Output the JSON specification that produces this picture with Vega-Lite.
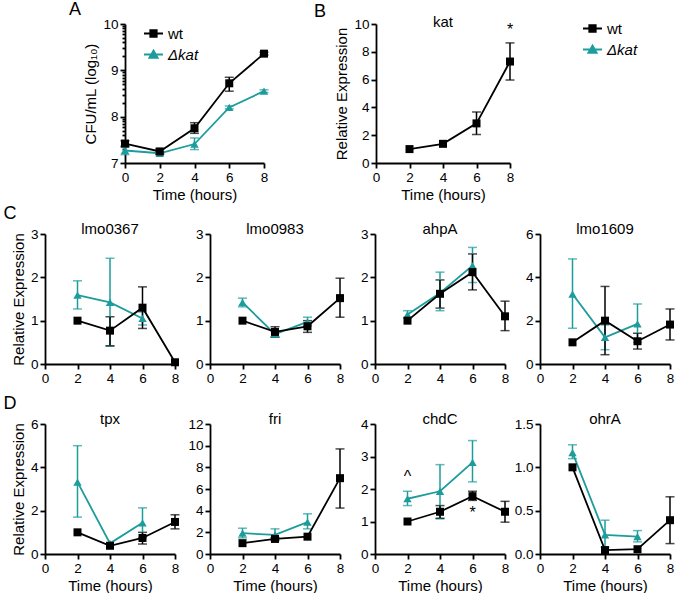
{
  "$schema": "https://vega.github.io/schema/vega-lite/v6.json",
  "background": "white",
  "padding": {"left": 3, "top": 1, "right": 0, "bottom": 0},
  "datasets": {
    "cfu": [
      {"s": "Δkat", "t": 0, "v": 7.27, "lo": 7.18, "hi": 7.34},
      {"s": "Δkat", "t": 2, "v": 7.21, "lo": 7.18, "hi": 7.24},
      {"s": "Δkat", "t": 4, "v": 7.41, "lo": 7.29, "hi": 7.54},
      {"s": "Δkat", "t": 6, "v": 8.2, "lo": 8.17, "hi": 8.23},
      {"s": "Δkat", "t": 8, "v": 8.55, "lo": 8.52, "hi": 8.58},
      {"s": "wt", "t": 0, "v": 7.42, "lo": 7.36, "hi": 7.48},
      {"s": "wt", "t": 2, "v": 7.25, "lo": 7.2, "hi": 7.3},
      {"s": "wt", "t": 4, "v": 7.75, "lo": 7.64, "hi": 7.87},
      {"s": "wt", "t": 6, "v": 8.72, "lo": 8.55, "hi": 8.85},
      {"s": "wt", "t": 8, "v": 9.36, "lo": 9.33, "hi": 9.39}
    ],
    "expr": [
      {"g": "kat", "s": "wt", "t": 2, "v": 1.0, "lo": null, "hi": null},
      {"g": "kat", "s": "wt", "t": 4, "v": 1.38, "lo": null, "hi": null},
      {"g": "kat", "s": "wt", "t": 6, "v": 2.85, "lo": 2.05, "hi": 3.67},
      {"g": "kat", "s": "wt", "t": 8, "v": 7.3, "lo": 5.97, "hi": 8.64},
      {"g": "lmo0367", "s": "Δkat", "t": 2, "v": 1.59, "lo": 1.27, "hi": 1.92},
      {"g": "lmo0367", "s": "Δkat", "t": 4, "v": 1.42, "lo": 0.41, "hi": 2.44},
      {"g": "lmo0367", "s": "Δkat", "t": 6, "v": 1.05, "lo": 0.9, "hi": 1.2},
      {"g": "lmo0367", "s": "wt", "t": 2, "v": 1.0, "lo": null, "hi": null},
      {"g": "lmo0367", "s": "wt", "t": 4, "v": 0.77, "lo": 0.42, "hi": 1.09},
      {"g": "lmo0367", "s": "wt", "t": 6, "v": 1.3, "lo": 0.82, "hi": 1.78},
      {"g": "lmo0367", "s": "wt", "t": 8, "v": 0.04, "lo": null, "hi": null},
      {"g": "lmo0983", "s": "Δkat", "t": 2, "v": 1.42, "lo": 1.32, "hi": 1.52},
      {"g": "lmo0983", "s": "Δkat", "t": 4, "v": 0.69, "lo": 0.62, "hi": 0.76},
      {"g": "lmo0983", "s": "Δkat", "t": 6, "v": 0.97, "lo": 0.88, "hi": 1.08},
      {"g": "lmo0983", "s": "wt", "t": 2, "v": 1.0, "lo": null, "hi": null},
      {"g": "lmo0983", "s": "wt", "t": 4, "v": 0.74, "lo": 0.62, "hi": 0.86},
      {"g": "lmo0983", "s": "wt", "t": 6, "v": 0.87, "lo": 0.73, "hi": 1.0},
      {"g": "lmo0983", "s": "wt", "t": 8, "v": 1.52, "lo": 1.08, "hi": 1.98},
      {"g": "ahpA", "s": "Δkat", "t": 2, "v": 1.14, "lo": 1.06, "hi": 1.23},
      {"g": "ahpA", "s": "Δkat", "t": 4, "v": 1.64, "lo": 1.23, "hi": 2.12},
      {"g": "ahpA", "s": "Δkat", "t": 6, "v": 2.27, "lo": 1.88, "hi": 2.69},
      {"g": "ahpA", "s": "wt", "t": 2, "v": 1.0, "lo": null, "hi": null},
      {"g": "ahpA", "s": "wt", "t": 4, "v": 1.62, "lo": 1.29, "hi": 1.94},
      {"g": "ahpA", "s": "wt", "t": 6, "v": 2.12, "lo": 1.71, "hi": 2.54},
      {"g": "ahpA", "s": "wt", "t": 8, "v": 1.1, "lo": 0.77, "hi": 1.45},
      {"g": "lmo1609", "s": "Δkat", "t": 2, "v": 3.23, "lo": 1.65, "hi": 4.85},
      {"g": "lmo1609", "s": "Δkat", "t": 4, "v": 1.23, "lo": 0.66, "hi": 1.8},
      {"g": "lmo1609", "s": "Δkat", "t": 6, "v": 1.85, "lo": 1.0, "hi": 2.77},
      {"g": "lmo1609", "s": "wt", "t": 2, "v": 1.0, "lo": null, "hi": null},
      {"g": "lmo1609", "s": "wt", "t": 4, "v": 2.0, "lo": 0.43, "hi": 3.58},
      {"g": "lmo1609", "s": "wt", "t": 6, "v": 1.05, "lo": 0.69, "hi": 1.42},
      {"g": "lmo1609", "s": "wt", "t": 8, "v": 1.82, "lo": 1.11, "hi": 2.54},
      {"g": "tpx", "s": "Δkat", "t": 2, "v": 3.32, "lo": 1.7, "hi": 5.0},
      {"g": "tpx", "s": "Δkat", "t": 4, "v": 0.49, "lo": null, "hi": null},
      {"g": "tpx", "s": "Δkat", "t": 6, "v": 1.44, "lo": 0.75, "hi": 2.13},
      {"g": "tpx", "s": "wt", "t": 2, "v": 1.0, "lo": null, "hi": null},
      {"g": "tpx", "s": "wt", "t": 4, "v": 0.38, "lo": null, "hi": null},
      {"g": "tpx", "s": "wt", "t": 6, "v": 0.74, "lo": 0.46, "hi": 1.0},
      {"g": "tpx", "s": "wt", "t": 8, "v": 1.48, "lo": 1.16, "hi": 1.81},
      {"g": "fri", "s": "Δkat", "t": 2, "v": 1.92, "lo": 1.49, "hi": 2.38},
      {"g": "fri", "s": "Δkat", "t": 4, "v": 1.76, "lo": 1.39, "hi": 2.32},
      {"g": "fri", "s": "Δkat", "t": 6, "v": 2.95, "lo": 2.32, "hi": 3.71},
      {"g": "fri", "s": "wt", "t": 2, "v": 1.0, "lo": null, "hi": null},
      {"g": "fri", "s": "wt", "t": 4, "v": 1.39, "lo": 1.25, "hi": 1.52},
      {"g": "fri", "s": "wt", "t": 6, "v": 1.6, "lo": null, "hi": null},
      {"g": "fri", "s": "wt", "t": 8, "v": 7.0, "lo": 4.24, "hi": 9.7},
      {"g": "chdC", "s": "Δkat", "t": 2, "v": 1.7, "lo": 1.49, "hi": 1.93},
      {"g": "chdC", "s": "Δkat", "t": 4, "v": 1.93, "lo": 1.08, "hi": 2.75},
      {"g": "chdC", "s": "Δkat", "t": 6, "v": 2.82, "lo": 2.22, "hi": 3.49},
      {"g": "chdC", "s": "wt", "t": 2, "v": 1.0, "lo": null, "hi": null},
      {"g": "chdC", "s": "wt", "t": 4, "v": 1.3, "lo": 1.1, "hi": 1.49},
      {"g": "chdC", "s": "wt", "t": 6, "v": 1.78, "lo": 1.65, "hi": 1.93},
      {"g": "chdC", "s": "wt", "t": 8, "v": 1.3, "lo": 0.98, "hi": 1.62},
      {"g": "ohrA", "s": "Δkat", "t": 2, "v": 1.17, "lo": 1.1, "hi": 1.26},
      {"g": "ohrA", "s": "Δkat", "t": 4, "v": 0.22, "lo": 0.08, "hi": 0.39},
      {"g": "ohrA", "s": "Δkat", "t": 6, "v": 0.2, "lo": 0.14, "hi": 0.27},
      {"g": "ohrA", "s": "wt", "t": 2, "v": 1.0, "lo": null, "hi": null},
      {"g": "ohrA", "s": "wt", "t": 4, "v": 0.045, "lo": null, "hi": null},
      {"g": "ohrA", "s": "wt", "t": 6, "v": 0.055, "lo": null, "hi": null},
      {"g": "ohrA", "s": "wt", "t": 8, "v": 0.39, "lo": 0.12, "hi": 0.66}
    ],
    "ann": [
      {"g": "kat", "t": 8, "v": 9.6, "lab": "*"},
      {"g": "chdC", "t": 2, "v": 2.37, "lab": "^"},
      {"g": "chdC", "t": 6, "v": 1.25, "lab": "*"}
    ]
  },
  "spacing": 2,
  "resolve": {"scale": {"color": "independent", "shape": "independent"}},
  "vconcat": [
    {
      "spacing": 40,
      "bounds": "flush",
      "resolve": {"scale": {"color": "independent", "shape": "independent"}},
      "hconcat": [
        {"width": 40, "height": 10, "data": {"values": []}, "mark": "point"},
        {
          "spacing": 112,
          "bounds": "flush",
          "resolve": {"scale": {"color": "independent", "shape": "independent"}},
          "hconcat": [
            {
              "width": 139, "height": 139,
              "title": {"text": "A", "anchor": "start", "frame": "group", "dx": -56, "offset": -2, "fontSize": 18},
              "data": {"name": "cfu"},
              "encoding": {
                "x": {"field": "t", "type": "quantitative", "scale": {"domain": [0, 8], "nice": false}, "axis": {"values": [0, 2, 4, 6, 8], "title": "Time (hours)"}},
                "y": {"field": "v", "type": "quantitative", "scale": {"domain": [7, 10], "nice": false, "zero": false},
                  "axis": {"title": "CFU/mL (log₁₀)",
                    "values": [7, 7.30103, 7.47712, 7.60206, 7.69897, 7.77815, 7.8451, 7.90309, 7.95424, 8, 8.30103, 8.47712, 8.60206, 8.69897, 8.77815, 8.8451, 8.90309, 8.95424, 9, 9.30103, 9.47712, 9.60206, 9.69897, 9.77815, 9.8451, 9.90309, 9.95424, 10],
                    "labelExpr": "datum.value % 1 === 0 ? format(datum.value, 'd') : ''",
                    "tickSize": {"condition": {"test": "datum.value % 1 === 0", "value": 5}, "value": 3}}},
                "color": {"field": "s", "type": "nominal", "scale": {"domain": ["wt", "Δkat"], "range": ["#000000", "#1d9c9c"]},
                  "legend": {"title": null, "orient": "none", "legendX": 18, "legendY": -1, "padding": 0, "symbolSize": 361, "rowPadding": 2, "labelOffset": 4, "labelFontSize": 15, "labelFont": "Liberation Sans", "labelColor": "#000", "symbolOpacity": 1, "symbolStrokeWidth": 1.8,
                    "encode": {
                      "symbols": {"update": {"stroke": {"signal": "datum.value === 'wt' ? '#000000' : '#1d9c9c'"}, "strokeWidth": {"value": 1.8}}},
                      "labels": {"update": {"fontStyle": {"signal": "datum.value === 'wt' ? 'normal' : 'italic'"}}}}}}
              },
              "layer": [
                {"mark": {"type": "errorbar", "ticks": true, "size": 9, "thickness": 1.5},
                 "encoding": {"y": {"field": "lo", "type": "quantitative", "scale": {"domain": [7, 10], "nice": false, "zero": false},
                  "axis": {"title": "CFU/mL (log₁₀)",
                    "values": [7, 7.30103, 7.47712, 7.60206, 7.69897, 7.77815, 7.8451, 7.90309, 7.95424, 8, 8.30103, 8.47712, 8.60206, 8.69897, 8.77815, 8.8451, 8.90309, 8.95424, 9, 9.30103, 9.47712, 9.60206, 9.69897, 9.77815, 9.8451, 9.90309, 9.95424, 10],
                    "labelExpr": "datum.value % 1 === 0 ? format(datum.value, 'd') : ''",
                    "tickSize": {"condition": {"test": "datum.value % 1 === 0", "value": 5}, "value": 3}}}, "y2": {"field": "hi"}}},
                {"mark": {"type": "line", "strokeWidth": 1.8}},
                {"transform": [{"filter": "datum.s === 'Δkat'"}], "mark": {"type": "point", "filled": true, "opacity": 1, "size": 70, "shape": "triangle-up"}},
                {"transform": [{"filter": "datum.s === 'wt'"}], "mark": {"type": "point", "filled": true, "opacity": 1, "size": 64, "shape": "square"}},
                {"mark": {"type": "point", "filled": true, "opacity": 1, "size": 0},
                 "encoding": {"shape": {"field": "s", "type": "nominal", "scale": {"domain": ["wt", "Δkat"], "range": ["M-1,0H1M-0.34,-0.34H0.34V0.34H-0.34Z", "M-1,0H1M0,-0.42L0.44,0.34H-0.44Z"]}, "legend": null}}}
              ]
            },
            {
              "title": {"text": "B", "anchor": "start", "frame": "bounds", "dx": -21, "fontSize": 18, "offset": -6},
              "hconcat": [
                {
                  "width": 134, "height": 139,
                  "title": {"text": "kat", "offset": -13},
                  "layer": [
                    {
                      "data": {"name": "expr"},
                      "transform": [{"filter": "datum.g === 'kat'"}],
                      "encoding": {
                        "x": {"field": "t", "type": "quantitative", "scale": {"domain": [0, 8], "nice": false}, "axis": {"values": [0, 2, 4, 6, 8], "title": "Time (hours)"}},
                        "y": {"field": "v", "type": "quantitative", "scale": {"domain": [0, 10], "nice": false}, "axis": {"values": [0, 2, 4, 6, 8, 10], "title": "Relative Expression"}},
                        "color": {"field": "s", "type": "nominal", "scale": {"domain": ["wt", "Δkat"], "range": ["#000000", "#1d9c9c"]},
                          "legend": {"title": null, "orient": "none", "legendX": 206, "legendY": -6, "padding": 0, "symbolSize": 361, "rowPadding": 2, "labelOffset": 4, "labelFontSize": 15, "labelFont": "Liberation Sans", "labelColor": "#000", "symbolOpacity": 1, "symbolStrokeWidth": 1.8,
                            "encode": {
                              "symbols": {"update": {"stroke": {"signal": "datum.value === 'wt' ? '#000000' : '#1d9c9c'"}, "strokeWidth": {"value": 1.8}}},
                              "labels": {"update": {"fontStyle": {"signal": "datum.value === 'wt' ? 'normal' : 'italic'"}}}}}}
                      },
                      "layer": [
                        {"transform": [{"filter": "isValid(datum.lo)"}], "mark": {"type": "errorbar", "ticks": true, "size": 9, "thickness": 1.5},
                         "encoding": {"y": {"field": "lo", "type": "quantitative", "scale": {"domain": [0, 10], "nice": false}, "axis": {"values": [0, 2, 4, 6, 8, 10], "title": "Relative Expression"}}, "y2": {"field": "hi"}}},
                        {"mark": {"type": "line", "strokeWidth": 1.8}},
                        {"mark": {"type": "point", "filled": true, "opacity": 1, "size": 64, "shape": "square"}},
                        {"mark": {"type": "point", "filled": true, "opacity": 1, "size": 0},
                         "encoding": {"shape": {"field": "s", "type": "nominal", "scale": {"domain": ["wt", "Δkat"], "range": ["M-1,0H1M-0.34,-0.34H0.34V0.34H-0.34Z", "M-1,0H1M0,-0.42L0.44,0.34H-0.44Z"]}, "legend": null}}}
                      ]
                    },
                    {
                      "data": {"name": "ann"},
                      "transform": [{"filter": "datum.g === 'kat'"}],
                      "mark": {"type": "text", "fontSize": 16, "font": "Liberation Sans", "color": "#000"},
                      "encoding": {
                        "x": {"field": "t", "type": "quantitative", "scale": {"domain": [0, 8], "nice": false}, "axis": {"values": [0, 2, 4, 6, 8], "title": "Time (hours)"}},
                        "y": {"field": "v", "type": "quantitative", "scale": {"domain": [0, 10], "nice": false}, "axis": {"values": [0, 2, 4, 6, 8, 10], "title": "Relative Expression"}},
                        "text": {"field": "lab"}
                      }
                    }
                  ]
                }
              ]
            }
          ]
        }
      ]
    },
    {
      "spacing": 10,
      "vconcat": [
        {
          "title": {"text": "C", "anchor": "start", "frame": "bounds", "dx": -8, "fontSize": 18, "offset": -1},
          "spacing": 35,
          "bounds": "flush",
          "hconcat": [
            {"width": 130, "height": 130, "title": {"text": "lmo0367", "offset": -10}, "data": {"name": "expr"}, "transform": [{"filter": "datum.g === 'lmo0367'"}],
             "encoding": {
               "x": {"field": "t", "type": "quantitative", "scale": {"domain": [0, 8], "nice": false}, "axis": {"values": [0, 2, 4, 6, 8], "title": null}},
               "y": {"field": "v", "type": "quantitative", "scale": {"domain": [0, 3], "nice": false}, "axis": {"values": [0, 1, 2, 3], "title": "Relative Expression"}},
               "color": {"field": "s", "type": "nominal", "scale": {"domain": ["wt", "Δkat"], "range": ["#000000", "#1d9c9c"]}, "legend": null}},
             "layer": [
               {"transform": [{"filter": "isValid(datum.lo)"}], "mark": {"type": "errorbar", "ticks": true, "size": 9, "thickness": 1.5},
                "encoding": {"y": {"field": "lo", "type": "quantitative", "scale": {"domain": [0, 3], "nice": false}, "axis": {"values": [0, 1, 2, 3], "title": "Relative Expression"}}, "y2": {"field": "hi"}}},
               {"mark": {"type": "line", "strokeWidth": 1.8}},
               {"transform": [{"filter": "datum.s === 'Δkat'"}], "mark": {"type": "point", "filled": true, "opacity": 1, "size": 70, "shape": "triangle-up"}},
               {"transform": [{"filter": "datum.s === 'wt'"}], "mark": {"type": "point", "filled": true, "opacity": 1, "size": 64, "shape": "square"}}
             ]},
            {"width": 130, "height": 130, "title": {"text": "lmo0983", "offset": -10}, "data": {"name": "expr"}, "transform": [{"filter": "datum.g === 'lmo0983'"}],
             "encoding": {
               "x": {"field": "t", "type": "quantitative", "scale": {"domain": [0, 8], "nice": false}, "axis": {"values": [0, 2, 4, 6, 8], "title": null}},
               "y": {"field": "v", "type": "quantitative", "scale": {"domain": [0, 3], "nice": false}, "axis": {"values": [0, 1, 2, 3], "title": null}},
               "color": {"field": "s", "type": "nominal", "scale": {"domain": ["wt", "Δkat"], "range": ["#000000", "#1d9c9c"]}, "legend": null}},
             "layer": [
               {"transform": [{"filter": "isValid(datum.lo)"}], "mark": {"type": "errorbar", "ticks": true, "size": 9, "thickness": 1.5},
                "encoding": {"y": {"field": "lo", "type": "quantitative", "scale": {"domain": [0, 3], "nice": false}, "axis": {"values": [0, 1, 2, 3], "title": null}}, "y2": {"field": "hi"}}},
               {"mark": {"type": "line", "strokeWidth": 1.8}},
               {"transform": [{"filter": "datum.s === 'Δkat'"}], "mark": {"type": "point", "filled": true, "opacity": 1, "size": 70, "shape": "triangle-up"}},
               {"transform": [{"filter": "datum.s === 'wt'"}], "mark": {"type": "point", "filled": true, "opacity": 1, "size": 64, "shape": "square"}}
             ]},
            {"width": 130, "height": 130, "title": {"text": "ahpA", "offset": -10}, "data": {"name": "expr"}, "transform": [{"filter": "datum.g === 'ahpA'"}],
             "encoding": {
               "x": {"field": "t", "type": "quantitative", "scale": {"domain": [0, 8], "nice": false}, "axis": {"values": [0, 2, 4, 6, 8], "title": null}},
               "y": {"field": "v", "type": "quantitative", "scale": {"domain": [0, 3], "nice": false}, "axis": {"values": [0, 1, 2, 3], "title": null}},
               "color": {"field": "s", "type": "nominal", "scale": {"domain": ["wt", "Δkat"], "range": ["#000000", "#1d9c9c"]}, "legend": null}},
             "layer": [
               {"transform": [{"filter": "isValid(datum.lo)"}], "mark": {"type": "errorbar", "ticks": true, "size": 9, "thickness": 1.5},
                "encoding": {"y": {"field": "lo", "type": "quantitative", "scale": {"domain": [0, 3], "nice": false}, "axis": {"values": [0, 1, 2, 3], "title": null}}, "y2": {"field": "hi"}}},
               {"mark": {"type": "line", "strokeWidth": 1.8}},
               {"transform": [{"filter": "datum.s === 'Δkat'"}], "mark": {"type": "point", "filled": true, "opacity": 1, "size": 70, "shape": "triangle-up"}},
               {"transform": [{"filter": "datum.s === 'wt'"}], "mark": {"type": "point", "filled": true, "opacity": 1, "size": 64, "shape": "square"}}
             ]},
            {"width": 130, "height": 130, "title": {"text": "lmo1609", "offset": -10}, "data": {"name": "expr"}, "transform": [{"filter": "datum.g === 'lmo1609'"}],
             "encoding": {
               "x": {"field": "t", "type": "quantitative", "scale": {"domain": [0, 8], "nice": false}, "axis": {"values": [0, 2, 4, 6, 8], "title": null}},
               "y": {"field": "v", "type": "quantitative", "scale": {"domain": [0, 6], "nice": false}, "axis": {"values": [0, 2, 4, 6], "title": null}},
               "color": {"field": "s", "type": "nominal", "scale": {"domain": ["wt", "Δkat"], "range": ["#000000", "#1d9c9c"]}, "legend": null}},
             "layer": [
               {"transform": [{"filter": "isValid(datum.lo)"}], "mark": {"type": "errorbar", "ticks": true, "size": 9, "thickness": 1.5},
                "encoding": {"y": {"field": "lo", "type": "quantitative", "scale": {"domain": [0, 6], "nice": false}, "axis": {"values": [0, 2, 4, 6], "title": null}}, "y2": {"field": "hi"}}},
               {"mark": {"type": "line", "strokeWidth": 1.8}},
               {"transform": [{"filter": "datum.s === 'Δkat'"}], "mark": {"type": "point", "filled": true, "opacity": 1, "size": 70, "shape": "triangle-up"}},
               {"transform": [{"filter": "datum.s === 'wt'"}], "mark": {"type": "point", "filled": true, "opacity": 1, "size": 64, "shape": "square"}}
             ]}
          ]
        },
        {
          "title": {"text": "D", "anchor": "start", "frame": "bounds", "dx": -8, "fontSize": 18, "offset": -1},
          "spacing": 35,
          "bounds": "flush",
          "hconcat": [
            {"width": 130, "height": 130, "title": {"text": "tpx", "offset": -10}, "data": {"name": "expr"}, "transform": [{"filter": "datum.g === 'tpx'"}],
             "encoding": {
               "x": {"field": "t", "type": "quantitative", "scale": {"domain": [0, 8], "nice": false}, "axis": {"values": [0, 2, 4, 6, 8], "title": "Time (hours)"}},
               "y": {"field": "v", "type": "quantitative", "scale": {"domain": [0, 6], "nice": false}, "axis": {"values": [0, 2, 4, 6], "title": "Relative Expression"}},
               "color": {"field": "s", "type": "nominal", "scale": {"domain": ["wt", "Δkat"], "range": ["#000000", "#1d9c9c"]}, "legend": null}},
             "layer": [
               {"transform": [{"filter": "isValid(datum.lo)"}], "mark": {"type": "errorbar", "ticks": true, "size": 9, "thickness": 1.5},
                "encoding": {"y": {"field": "lo", "type": "quantitative", "scale": {"domain": [0, 6], "nice": false}, "axis": {"values": [0, 2, 4, 6], "title": "Relative Expression"}}, "y2": {"field": "hi"}}},
               {"mark": {"type": "line", "strokeWidth": 1.8}},
               {"transform": [{"filter": "datum.s === 'Δkat'"}], "mark": {"type": "point", "filled": true, "opacity": 1, "size": 70, "shape": "triangle-up"}},
               {"transform": [{"filter": "datum.s === 'wt'"}], "mark": {"type": "point", "filled": true, "opacity": 1, "size": 64, "shape": "square"}}
             ]},
            {"width": 130, "height": 130, "title": {"text": "fri", "offset": -10}, "data": {"name": "expr"}, "transform": [{"filter": "datum.g === 'fri'"}],
             "encoding": {
               "x": {"field": "t", "type": "quantitative", "scale": {"domain": [0, 8], "nice": false}, "axis": {"values": [0, 2, 4, 6, 8], "title": "Time (hours)"}},
               "y": {"field": "v", "type": "quantitative", "scale": {"domain": [0, 12], "nice": false}, "axis": {"values": [0, 2, 4, 6, 8, 10, 12], "title": null}},
               "color": {"field": "s", "type": "nominal", "scale": {"domain": ["wt", "Δkat"], "range": ["#000000", "#1d9c9c"]}, "legend": null}},
             "layer": [
               {"transform": [{"filter": "isValid(datum.lo)"}], "mark": {"type": "errorbar", "ticks": true, "size": 9, "thickness": 1.5},
                "encoding": {"y": {"field": "lo", "type": "quantitative", "scale": {"domain": [0, 12], "nice": false}, "axis": {"values": [0, 2, 4, 6, 8, 10, 12], "title": null}}, "y2": {"field": "hi"}}},
               {"mark": {"type": "line", "strokeWidth": 1.8}},
               {"transform": [{"filter": "datum.s === 'Δkat'"}], "mark": {"type": "point", "filled": true, "opacity": 1, "size": 70, "shape": "triangle-up"}},
               {"transform": [{"filter": "datum.s === 'wt'"}], "mark": {"type": "point", "filled": true, "opacity": 1, "size": 64, "shape": "square"}}
             ]},
            {"width": 130, "height": 130, "title": {"text": "chdC", "offset": -10},
             "layer": [
               {"data": {"name": "expr"}, "transform": [{"filter": "datum.g === 'chdC'"}],
                "encoding": {
                  "x": {"field": "t", "type": "quantitative", "scale": {"domain": [0, 8], "nice": false}, "axis": {"values": [0, 2, 4, 6, 8], "title": "Time (hours)"}},
                  "y": {"field": "v", "type": "quantitative", "scale": {"domain": [0, 4], "nice": false}, "axis": {"values": [0, 1, 2, 3, 4], "title": null}},
                  "color": {"field": "s", "type": "nominal", "scale": {"domain": ["wt", "Δkat"], "range": ["#000000", "#1d9c9c"]}, "legend": null}},
                "layer": [
                  {"transform": [{"filter": "isValid(datum.lo)"}], "mark": {"type": "errorbar", "ticks": true, "size": 9, "thickness": 1.5},
                   "encoding": {"y": {"field": "lo", "type": "quantitative", "scale": {"domain": [0, 4], "nice": false}, "axis": {"values": [0, 1, 2, 3, 4], "title": null}}, "y2": {"field": "hi"}}},
                  {"mark": {"type": "line", "strokeWidth": 1.8}},
                  {"transform": [{"filter": "datum.s === 'Δkat'"}], "mark": {"type": "point", "filled": true, "opacity": 1, "size": 70, "shape": "triangle-up"}},
                  {"transform": [{"filter": "datum.s === 'wt'"}], "mark": {"type": "point", "filled": true, "opacity": 1, "size": 64, "shape": "square"}}
                ]},
               {"data": {"name": "ann"}, "transform": [{"filter": "datum.g === 'chdC'"}],
                "mark": {"type": "text", "fontSize": 16, "font": "Liberation Sans", "color": "#000"},
                "encoding": {
                  "x": {"field": "t", "type": "quantitative", "scale": {"domain": [0, 8], "nice": false}, "axis": {"values": [0, 2, 4, 6, 8], "title": "Time (hours)"}},
                  "y": {"field": "v", "type": "quantitative", "scale": {"domain": [0, 4], "nice": false}, "axis": {"values": [0, 1, 2, 3, 4], "title": null}},
                  "text": {"field": "lab"}}}
             ]},
            {"width": 130, "height": 130, "title": {"text": "ohrA", "offset": -10}, "data": {"name": "expr"}, "transform": [{"filter": "datum.g === 'ohrA'"}],
             "encoding": {
               "x": {"field": "t", "type": "quantitative", "scale": {"domain": [0, 8], "nice": false}, "axis": {"values": [0, 2, 4, 6, 8], "title": "Time (hours)"}},
               "y": {"field": "v", "type": "quantitative", "scale": {"domain": [0, 1.5], "nice": false}, "axis": {"values": [0, 0.5, 1, 1.5], "format": ".1f", "title": null}},
               "color": {"field": "s", "type": "nominal", "scale": {"domain": ["wt", "Δkat"], "range": ["#000000", "#1d9c9c"]}, "legend": null}},
             "layer": [
               {"transform": [{"filter": "isValid(datum.lo)"}], "mark": {"type": "errorbar", "ticks": true, "size": 9, "thickness": 1.5},
                "encoding": {"y": {"field": "lo", "type": "quantitative", "scale": {"domain": [0, 1.5], "nice": false}, "axis": {"values": [0, 0.5, 1, 1.5], "format": ".1f", "title": null}}, "y2": {"field": "hi"}}},
               {"mark": {"type": "line", "strokeWidth": 1.8}},
               {"transform": [{"filter": "datum.s === 'Δkat'"}], "mark": {"type": "point", "filled": true, "opacity": 1, "size": 70, "shape": "triangle-up"}},
               {"transform": [{"filter": "datum.s === 'wt'"}], "mark": {"type": "point", "filled": true, "opacity": 1, "size": 64, "shape": "square"}}
             ]}
          ]
        }
      ]
    }
  ],
  "config": {
    "font": "Liberation Sans",
    "view": {"stroke": null},
    "axis": {"grid": false, "domainColor": "#000", "domainWidth": 1.8, "tickColor": "#000", "tickWidth": 1.8, "tickSize": 5,
      "labelFont": "Liberation Sans", "labelFontSize": 13.5, "labelColor": "#000", "labelPadding": 2, "labelOverlap": false, "labelFlush": false,
      "titleFont": "Liberation Sans", "titleFontSize": 15, "titleFontWeight": "normal", "titleColor": "#000", "titlePadding": 4},
    "title": {"font": "Liberation Sans", "fontSize": 15, "fontWeight": "normal", "color": "#000", "baseline": "alphabetic", "offset": 1}
  }
}
